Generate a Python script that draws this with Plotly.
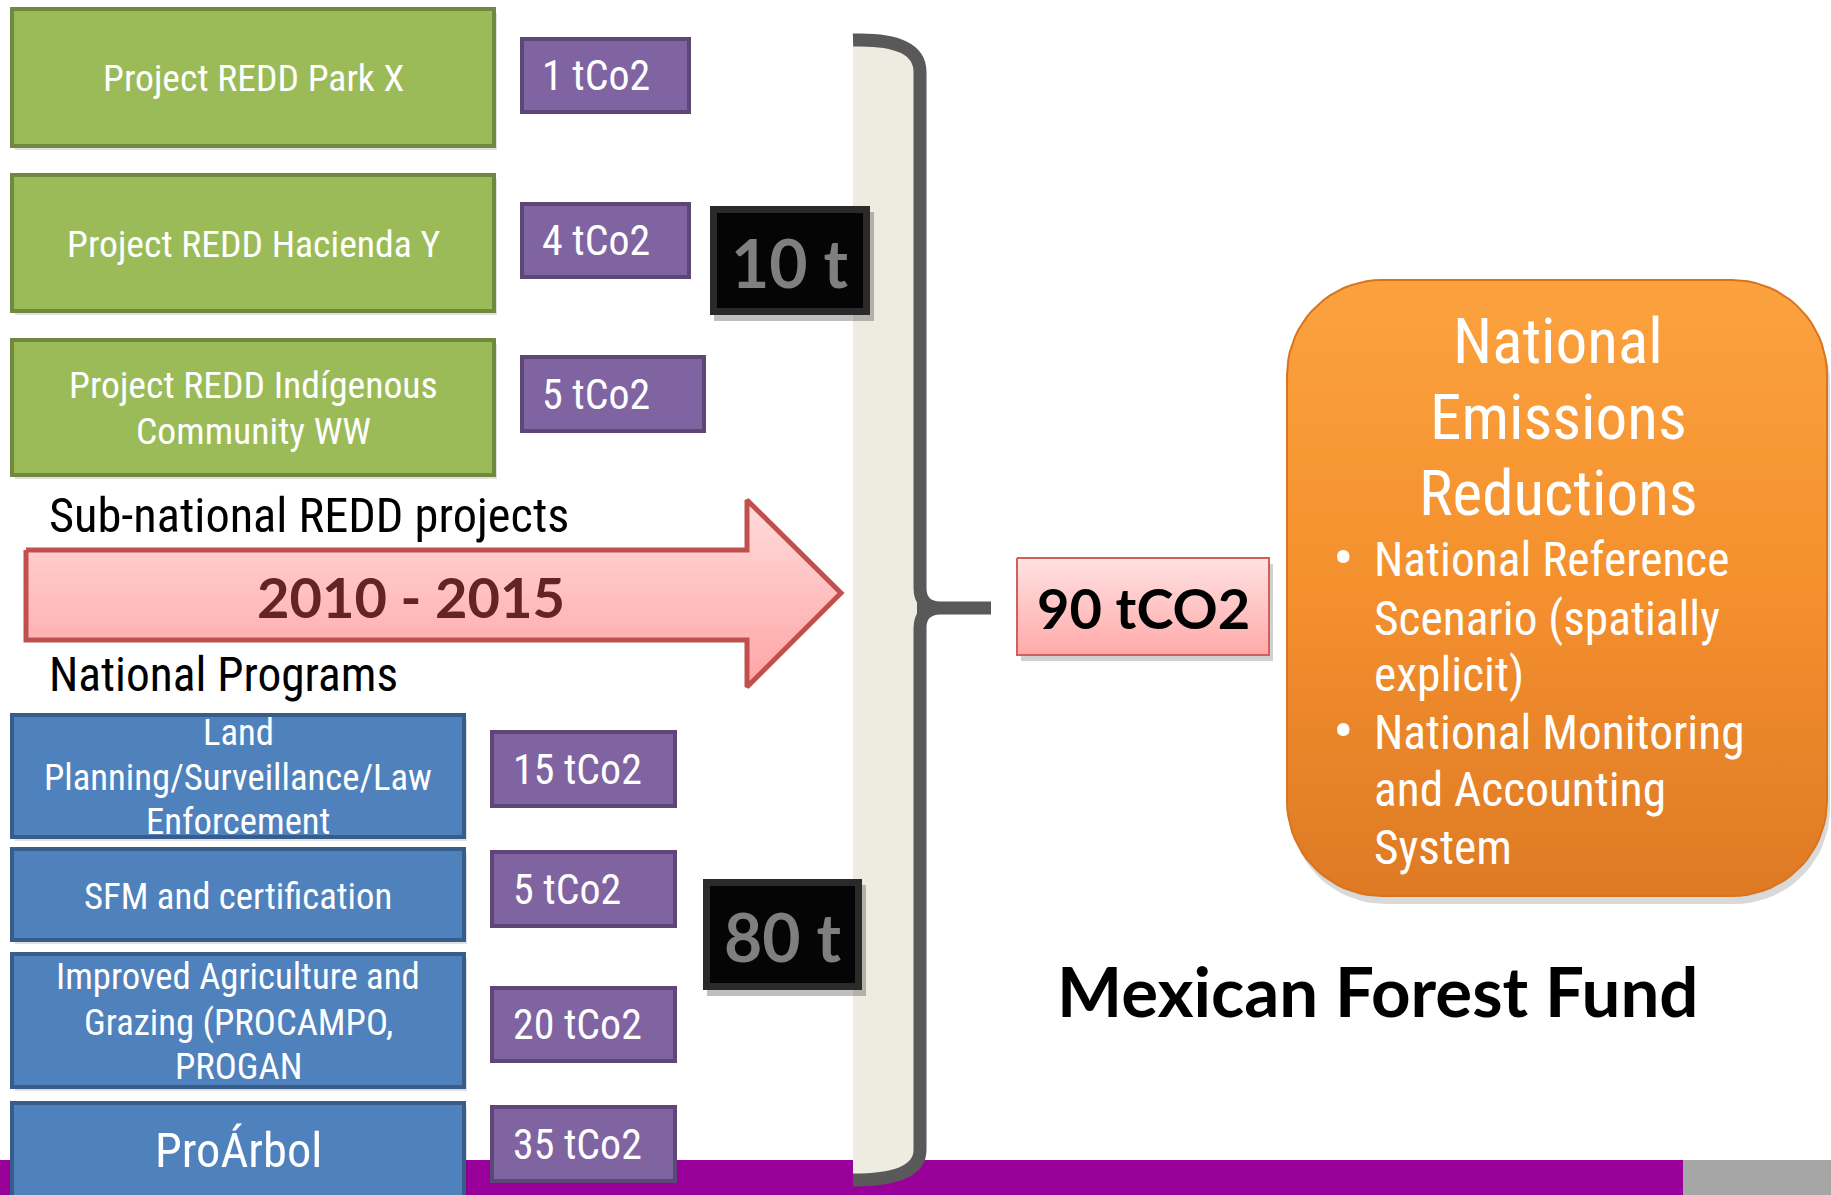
import subprocess
import numpy as np
import plotly.graph_objects as go

# ---------------- content ----------------
project_labels = [
    ["Project REDD Park X"],
    ["Project REDD Hacienda Y"],
    ["Project REDD Indígenous", "Community WW"],
]
project_tco2 = [1, 4, 5]

program_labels = [
    ["Land", "Planning/Surveillance/Law", "Enforcement"],
    ["SFM and certification"],
    ["Improved Agriculture and", "Grazing (PROCAMPO,", "PROGAN"],
    ["ProÁrbol"],
]
program_tco2 = [15, 5, 20, 35]

subtotal_t = [10, 80]
total_tco2 = 90
period = ["2010", "2015"]
group_titles = ["Sub-national REDD projects", "National Programs"]
outcome_title = ["National", "Emissions", "Reductions"]
outcome_bullets = [
    ["National Reference", "Scenario (spatially", "explicit)"],
    ["National Monitoring", "and Accounting", "System"],
]
fund_name = "Mexican Forest Fund"


# ---------------- fonts ----------------
def installed_families():
    try:
        out = subprocess.run(["fc-list", ":", "family"], capture_output=True, text=True, timeout=20).stdout
        return out
    except Exception:
        return ""


_fams = installed_families()
# narrow sans for the box labels; scale keeps line widths comparable across faces
NARROW, NSCALE = "DejaVu Sans Condensed", 0.86
for fam, sc in [("Liberation Sans Narrow", 1.0), ("Roboto Condensed", 0.93)]:
    if fam in _fams:
        NARROW, NSCALE = fam, sc
        break
BOLD = "Lato, Open Sans, DejaVu Sans, sans-serif"


def ns(size):
    return round(size * NSCALE, 1)


# ---------------- page geometry (pixels, y downward) ----------------
W, H = 1831, 1195

green_x = (12, 494)
green_y = [(9, 146), (175, 311), (340, 475)]
green_lines_y = [[78], [244], [385, 431]]

ptop_x0, ptop_x1 = 522, [689, 689, 704]
ptop_y = [(39, 112), (204, 277), (357, 431)]
ptop_text_x = 540

blue_x = (12, 464)
blue_y = [(715, 837), (849, 940), (954, 1087), (1103, 1215)]
blue_lines_y = [[732, 777, 821], [896], [976, 1022, 1066], [1150]]
blue_sizes = [39.5, 39.5, 39.5, 52]

pbot_x = (492, 675)
pbot_y = [(732, 806), (852, 926), (988, 1061), (1107, 1181)]
pbot_text_x = 511

black_boxes = [(710, 206, 870, 315), (703, 879, 862, 990)]

fig = go.Figure()
shapes = []
ann = []


def rect(x0, y0, x1, y1, fill, line=None, lw=0, layer="above"):
    shapes.append(dict(type="rect", xref="x", yref="y", x0=x0, y0=y0, x1=x1, y1=y1,
                       fillcolor=fill, line=dict(color=line or fill, width=lw), layer=layer))


def text(x, y, s, size, color="white", family=None, xanchor="center"):
    ann.append(dict(x=x, y=y, xref="x", yref="y", text=s, showarrow=False,
                    xanchor=xanchor, yanchor="middle",
                    font=dict(size=size, color=color, family=family or NARROW)))


def rrect_pts(x0, y0, x1, y1, r, n=20):
    xs, ys = [], []
    for cx, cy, a0 in [(x1 - r, y0 + r, -90), (x1 - r, y1 - r, 0),
                       (x0 + r, y1 - r, 90), (x0 + r, y0 + r, 180)]:
        t = np.radians(np.linspace(a0, a0 + 90, n))
        xs += list(cx + r * np.cos(t))
        ys += list(cy + r * np.sin(t))
    xs.append(xs[0]); ys.append(ys[0])
    return xs, ys


# bottom banner
rect(0, 1160, 1683, W, "#990099", layer="below")
rect(1683, 1160, W, H + 20, "#A6A6A6", layer="below")

# curly brace collecting both groups
shapes.append(dict(type="path", xref="x", yref="y", layer="above",
                   path="M 853,40 Q 920,38 920,72 L 920,1150 Q 920,1180 853,1180 Z",
                   fillcolor="#EEECE1", line=dict(width=0)))
shapes.append(dict(type="path", xref="x", yref="y", layer="above",
                   path=("M 853,40 Q 920,38 920,72 L 920,588 Q 920,607 940,608 L 991,608 "
                         "M 991,608 L 940,608 Q 920,609 920,628 L 920,1150 Q 920,1180 853,1180"),
                   line=dict(color="#595959", width=13)))
shapes.append(dict(type="path", xref="x", yref="y", layer="above",
                   path="M 918,590 Q 922,606 945,603 L 945,613 Q 922,610 918,626 Z",
                   fillcolor="#595959", line=dict(color="#595959", width=2)))

# sub-national projects
for (y0, y1) in green_y:
    rect(green_x[0] + 3, y0 + 4, green_x[1] + 3, y1 + 4, "rgba(0,0,0,0.12)", layer="below")
    rect(green_x[0], y0, green_x[1], y1, "#9BBB59", "#71893F", 4)
for lines, ys in zip(project_labels, green_lines_y):
    for s, y in zip(lines, ys):
        text(sum(green_x) / 2, y, s, ns(40.5))

for x1, (y0, y1), v in zip(ptop_x1, ptop_y, project_tco2):
    rect(ptop_x0, y0, x1, y1, "#8064A2", "#5C4776", 4)
    text(ptop_text_x, (y0 + y1) / 2, f"{v} tCo2", ns(45), xanchor="left")

# national programmes
for (y0, y1) in blue_y:
    rect(blue_x[0] + 3, y0 + 4, blue_x[1] + 3, y1 + 4, "rgba(0,0,0,0.12)", layer="below")
    rect(blue_x[0], y0, blue_x[1], y1, "#4F81BD", "#385D8A", 4)
for lines, ys, fs in zip(program_labels, blue_lines_y, blue_sizes):
    for s, y in zip(lines, ys):
        text(sum(blue_x) / 2, y, s, ns(fs))

for (y0, y1), v in zip(pbot_y, program_tco2):
    rect(pbot_x[0], y0, pbot_x[1], y1, "#8064A2", "#5C4776", 4)
    text(pbot_text_x, (y0 + y1) / 2, f"{v} tCo2", ns(45), xanchor="left")

# subtotal tiles
for (x0, y0, x1, y1), v in zip(black_boxes, subtotal_t):
    rect(x0 + 4, y0 + 6, x1 + 4, y1 + 6, "rgba(0,0,0,0.25)")
    rect(x0, y0, x1, y1, "#2A2A2A")
    rect(x0 + 7, y0 + 7, x1 - 7, y1 - 7, "#050505")
    text((x0 + x1) / 2, (y0 + y1) / 2 + 2, f"<b>{v} t</b>", 66, "#7F7F7F", BOLD)

# timeline arrow
ax = [26, 747, 747, 841, 747, 747, 26, 26]
ay = [550, 550, 500, 593, 687, 640, 640, 550]
fig.add_trace(go.Scatter(
    x=ax, y=ay, mode="lines", fill="toself", hoverinfo="skip",
    line=dict(color="#C0504D", width=5),
    fillgradient=dict(type="vertical", start=500, stop=687,
                      colorscale=[[0, "#FFDCDC"], [1, "#FFA4A4"]]),
))
text(411, 596, f"<b>{period[0]} - {period[1]}</b>", 56, "#632523", BOLD)
text(47, 515, group_titles[0], ns(52), "black", xanchor="left")
text(47, 675, group_titles[1], ns(51), "black", xanchor="left")

# total
bx0, by0, bx1, by1 = 1017, 558, 1269, 655
rect(bx0 + 4, by0 + 6, bx1 + 4, by1 + 6, "rgba(0,0,0,0.18)", layer="below")
fig.add_trace(go.Scatter(
    x=[bx0, bx1, bx1, bx0, bx0], y=[by0, by0, by1, by1, by0], mode="lines", fill="toself",
    hoverinfo="skip", line=dict(color="#D0605C", width=2),
    fillgradient=dict(type="vertical", start=by0, stop=by1,
                      colorscale=[[0, "#FFE2E2"], [1, "#FFA9A9"]]),
))
text((bx0 + bx1) / 2, (by0 + by1) / 2 + 1, f"<b>{total_tco2} tCO2</b>", 56, "black", BOLD)

# national outcome panel
ox0, oy0, ox1, oy1 = 1287, 280, 1827, 896
sx, sy = rrect_pts(ox0 + 3, oy0 + 8, ox1 + 3, oy1 + 8, 95)
fig.add_trace(go.Scatter(x=sx, y=sy, mode="lines", fill="toself", hoverinfo="skip",
                         fillcolor="rgba(0,0,0,0.15)", line=dict(width=0)))
xs, ys = rrect_pts(ox0, oy0, ox1, oy1, 95)
fig.add_trace(go.Scatter(
    x=xs, y=ys, mode="lines", fill="toself", hoverinfo="skip",
    line=dict(color="#D9741E", width=2),
    fillgradient=dict(type="vertical", start=oy0, stop=oy1,
                      colorscale=[[0, "#FBA23E"], [0.5, "#F4902E"], [1, "#DE7A24"]]),
))
for s, y in zip(outcome_title, [341, 417, 493]):
    text(1558, y, s, ns(68))
bullet_rows = [[560, 619, 675], [733, 790, 848]]
for lines, ys_ in zip(outcome_bullets, bullet_rows):
    text(1343, ys_[0] - 2, "•", ns(66), xanchor="center")
    for s, y in zip(lines, ys_):
        text(1372, y, s, ns(51), xanchor="left")

text(1378, 990, f"<b>{fund_name}</b>", 69, "black", BOLD)

fig.update_layout(
    width=W, height=H, margin=dict(l=0, r=0, t=0, b=0),
    paper_bgcolor="white", plot_bgcolor="white", showlegend=False,
    xaxis=dict(range=[0, W], visible=False, fixedrange=True),
    yaxis=dict(range=[H, 0], visible=False, fixedrange=True),
    shapes=shapes, annotations=ann,
)
fig.write_html("out.html", config={"displayModeBar": False})
